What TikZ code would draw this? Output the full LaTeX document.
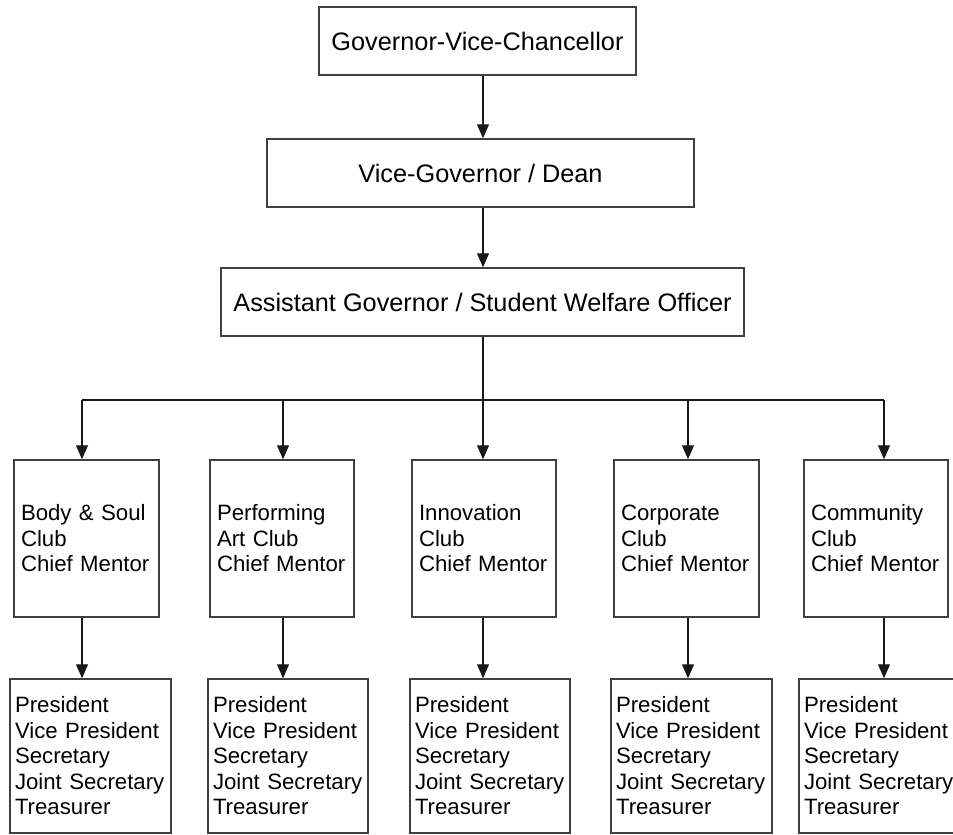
\documentclass[tikz,border=0pt]{standalone}
\usepackage{fontspec}
\setmainfont{Liberation Sans}
\usetikzlibrary{arrows.meta}
\begin{document}
\begin{tikzpicture}[x=1pt,y=-1pt,
  topbox/.style={draw=black!75, line width=1.5pt, inner sep=0pt, font=\fontsize{25.3}{30}\selectfont},
  clubbox/.style={draw=black!75, line width=1.5pt, inner xsep=7pt, inner ysep=0pt, align=left,
     minimum height=157pt, font=\fontsize{22.2}{25.5}\selectfont},
  rolebox/.style={draw=black!75, line width=1.5pt, inner xsep=5pt, inner ysep=0pt, align=left,
     minimum height=154pt, font=\fontsize{22.2}{25.5}\selectfont},
  conn/.style={draw=black!90, line width=1.3pt},
  arr/.style={conn, -{Triangle[width=12pt,length=14pt]}}]
\useasboundingbox (0,0) rectangle (953,835);

\node[topbox, minimum width=317pt, minimum height=68pt] (gov) at (477.5,41) {Governor-Vice-Chancellor};
\node[topbox, minimum width=427pt, minimum height=68pt] (vg) at (480.5,173) {Vice-Governor / Dean};
\node[topbox, minimum width=523pt, minimum height=68pt] (ag) at (482.5,302) {Assistant Governor / Student Welfare Officer};

\node[clubbox, text width=131pt] (m1) at (86.5,538.5) {\mbox{Body \& Soul}\\Club\\\mbox{Chief Mentor}};
\node[clubbox, text width=130pt] (m2) at (282,538.5) {Performing\\\mbox{Art Club}\\\mbox{Chief Mentor}};
\node[clubbox, text width=130pt] (m3) at (484,538.5) {Innovation\\Club\\\mbox{Chief Mentor}};
\node[clubbox, text width=131pt] (m4) at (686.5,538.5) {Corporate\\Club\\\mbox{Chief Mentor}};
\node[clubbox, text width=130pt] (m5) at (876,538.5) {Community\\Club\\\mbox{Chief Mentor}};

\node[rolebox, text width=151pt] (b1) at (90.5,756) {President\\\mbox{Vice President}\\Secretary\\\mbox{Joint Secretary}\\Treasurer};
\node[rolebox, text width=150pt] (b2) at (288,756) {President\\\mbox{Vice President}\\Secretary\\\mbox{Joint Secretary}\\Treasurer};
\node[rolebox, text width=150pt] (b3) at (490,756) {President\\\mbox{Vice President}\\Secretary\\\mbox{Joint Secretary}\\Treasurer};
\node[rolebox, text width=151pt] (b4) at (691.5,756) {President\\\mbox{Vice President}\\Secretary\\\mbox{Joint Secretary}\\Treasurer};
\node[rolebox, text width=152pt] (b5) at (880,756) {President\\\mbox{Vice President}\\Secretary\\\mbox{Joint Secretary}\\Treasurer};

\coordinate (c1) at (82,400);
\coordinate (c2) at (283,400);
\coordinate (c3) at (483,400);
\coordinate (c4) at (688,400);
\coordinate (c5) at (884,400);

\draw[arr] (gov.south -| c3) -- (vg.north -| c3);
\draw[arr] (vg.south -| c3) -- (ag.north -| c3);
\draw[conn] (ag.south -| c3) -- (c3);
\draw[conn] (c1) -- (c5);
\foreach \i in {1,...,5} {
  \draw[arr] (c\i) -- (m\i.north -| c\i);
  \draw[arr] (m\i.south -| c\i) -- (b\i.north -| c\i);
}
\end{tikzpicture}
\end{document}
